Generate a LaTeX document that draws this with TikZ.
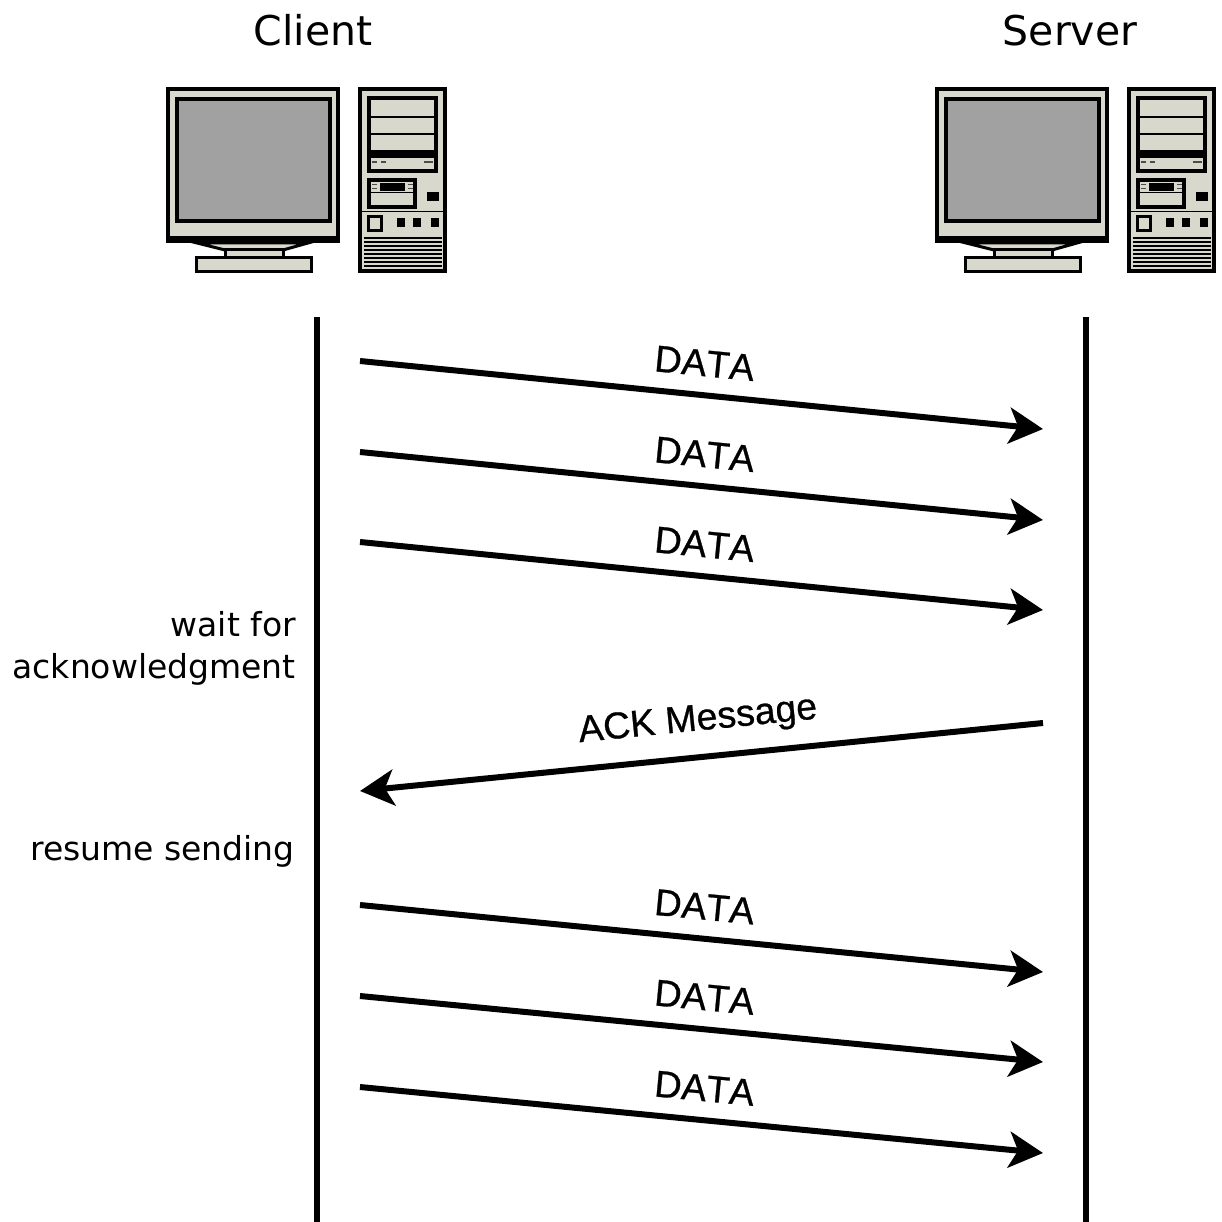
\documentclass[tikz,border=0pt]{standalone}
\usepackage{fontspec}
\setmainfont{DejaVu Sans}
\newfontfamily\msgfont[Kerning=Off, FakeBold=0.7]{Liberation Sans}
\usetikzlibrary{arrows.meta}

\definecolor{casebeige}{HTML}{D9D8CC}
\definecolor{screengray}{HTML}{A1A1A1}

\tikzset{
  frame/.style={draw=black, fill=casebeige},
  lifeline/.style={line width=6pt},
  msg/.style={line width=6pt, -{Stealth[length=34pt,width=36pt,inset=9pt]}},
  msglabel/.style={font=\msgfont\fontsize{37.5}{42}\selectfont, sloped, above, inner sep=16pt},
  side/.style={font=\fontsize{33}{40}\selectfont, anchor=base east, inner sep=0pt},
  title/.style={font=\fontsize{41}{48}\selectfont, anchor=base, inner sep=0pt},
  pics/workstation/.style={code={
    % monitor
    \draw[frame, line width=4pt] (2,2) rectangle (172,154);
    \fill (0,149) rectangle (174,156);
    \draw[line width=4pt, fill=screengray] (11,12) rectangle (164,134);
    \draw[line width=3pt, fill=casebeige, line join=miter] (31,156) -- (142,156) -- (117,163) -- (59,163) -- cycle;
    \draw[frame, line width=3pt] (59,163) rectangle (117,171);
    \draw[frame, line width=3pt] (30,171) rectangle (145,185);
    % tower case
    \draw[frame, line width=4pt] (194,2) rectangle (279,184);
    % drive bays
    \draw[frame, line width=4pt] (203,11) rectangle (270,84);
    \draw[line width=1.2pt] (205,30) -- (268,30) (205,47) -- (268,47);
    \fill (205,63) rectangle (268,71);
    \draw[line width=1.5pt, black!70] (206,75) -- (211,75) (215,75) -- (220,75) (258,75) -- (267,75);
    % floppy drive
    \draw[frame, line width=4pt] (203,93) rectangle (249,120);
    \fill (214,96) rectangle (239,104);
    \draw[line width=1pt] (205,106) -- (247,106);
    \draw[line width=1pt, black!70] (206,98) -- (211,98) (206,102) -- (211,102) (242,98) -- (247,98) (242,102) -- (247,102);
    \fill (261,105) rectangle (273,114);
    \draw[line width=1pt] (196,125) -- (277,125);
    % buttons
    \draw[frame, line width=3pt] (202.5,129.5) rectangle (215.5,143.5);
    \foreach \bx in {231,247,265} \fill (\bx,131) rectangle ++(8,9);
    % vents
    \foreach \vy in {151,155,...,179} \draw[line width=1.2pt] (198,\vy) -- (276,\vy);
  }}
}

\begin{document}
\begin{tikzpicture}[x=1pt, y=-1pt]
  \useasboundingbox (0,0) rectangle (1221,1222);

  % hosts
  \node[title] (clientname) at (313,46) {Client};
  \node[title] (servername) at (1070,46) {Server};
  \pic (clientpc) at (166,87) {workstation};
  \pic (serverpc) at (935,87) {workstation};

  % lifelines
  \coordinate (ctop) at (317,317);
  \coordinate (cbot) at (317,1222);
  \coordinate (stop) at (1086,317);
  \coordinate (sbot) at (1086,1222);
  \draw[lifeline] (ctop) -- (cbot);
  \draw[lifeline] (stop) -- (sbot);

  % message end points
  \coordinate (c1) at (360,361);  \coordinate (s1) at (1043,429);
  \coordinate (c2) at (360,452);  \coordinate (s2) at (1043,520);
  \coordinate (c3) at (360,542);  \coordinate (s3) at (1043,610);
  \coordinate (s4) at (1043,723); \coordinate (c4) at (360,791);
  \coordinate (c5) at (360,905);  \coordinate (s5) at (1043,972);
  \coordinate (c6) at (360,996);  \coordinate (s6) at (1043,1062);
  \coordinate (c7) at (360,1087); \coordinate (s7) at (1043,1153);

  % data window
  \draw[msg] (c1) -- node[msglabel] (d1) {DATA} (s1);
  \draw[msg] (c2) -- node[msglabel] (d2) {DATA} (s2);
  \draw[msg] (c3) -- node[msglabel] (d3) {DATA} (s3);

  \node[side] (wait1) at (296,636) {wait for};
  \node[side] (wait2) at (296,678) {acknowledgment};

  % acknowledgment
  \draw[msg] (s4) -- node[msglabel] (ack) {ACK Message} (c4);

  \node[side] (resume) at (295,860) {resume sending};

  % next window
  \draw[msg] (c5) -- node[msglabel] (d5) {DATA} (s5);
  \draw[msg] (c6) -- node[msglabel] (d6) {DATA} (s6);
  \draw[msg] (c7) -- node[msglabel] (d7) {DATA} (s7);
\end{tikzpicture}
\end{document}
